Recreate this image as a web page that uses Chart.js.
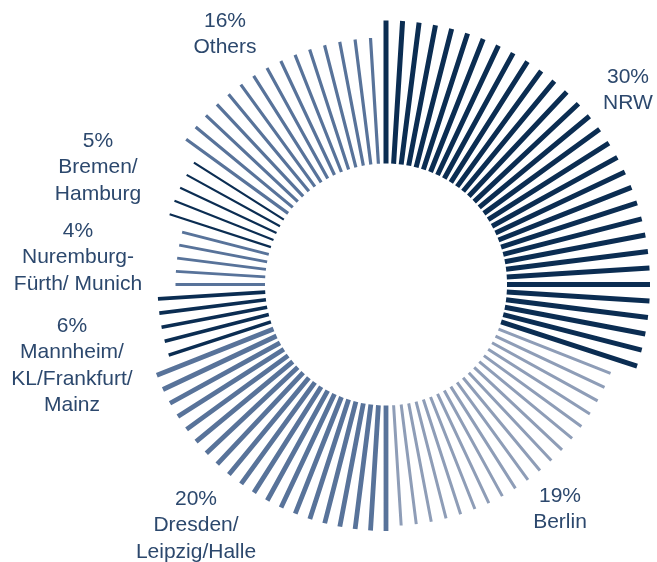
<!DOCTYPE html>
<html>
<head>
<meta charset="utf-8">
<script src="https://cdn.jsdelivr.net/npm/chart.js@4"></script>
<style>
  html, body { margin: 0; padding: 0; background: #fff; }
  #wrap { width: 657px; height: 562px; }
</style>
</head>
<body>
<div id="wrap"><canvas id="ring" width="657" height="562"></canvas></div>
<script>
  // regions, clockwise from 12 o'clock
  const regions = ["NRW", "Berlin", "Dresden/Leipzig/Halle", "Mannheim/KL/Frankfurt/Mainz",
    "Nuremburg-Fürth/ Munich", "Bremen/Hamburg", "Others"];
  const shares = [30, 19, 20, 6, 4, 5, 16];
  // number of spokes per region (100 spokes around the ring)
  const spokeCounts = [31, 19, 20, 5, 5, 5, 15];
  // spoke length (outer radius) per region
  const spokeLength = [264, 241.5, 246.5, 228.5, 210.5, 227.5, 247];
  const innerRadius = 121;

  // label text, one entry per region
  const labelLines = [
    ["30%", "NRW"],
    ["19%", "Berlin"],
    ["20%", "Dresden/", "Leipzig/Halle"],
    ["6%", "Mannheim/", "KL/Frankfurt/", "Mainz"],
    ["4%", "Nuremburg-", "Fürth/ Munich"],
    ["5%", "Bremen/", "Hamburg"],
    ["16%", "Others"]
  ];

  // styling
  const spokeColors = ["#0b2d52", "#8e9db7", "#58739a", "#0b2d52", "#58739a", "#0b2d52", "#58739a"];
  const spokeWidths = [5, 3, 4.8, 3.6, 2.8, 2.2, 3.2];
  const labelPos = [[628, 83], [560, 502], [196, 505], [72, 332], [78, 237], [98, 147], [225, 27]];
  const lineHeight = 26.3;

  const W = 657, H = 562, cx = 386, cy = 284.5;
  const totalSpokes = spokeCounts.reduce((a, b) => a + b, 0);
  const step = 2 * Math.PI / totalSpokes;

  // every spoke is a short line from the inner circle out to its length,
  // separated from the next by a NaN point so the line breaks
  let k = 0;
  const datasets = regions.map((name, g) => {
    const pts = [];
    for (let i = 0; i < spokeCounts[g]; i++, k++) {
      const a = k * step;
      pts.push({ x: innerRadius * Math.sin(a), y: innerRadius * Math.cos(a) });
      pts.push({ x: spokeLength[g] * Math.sin(a), y: spokeLength[g] * Math.cos(a) });
      pts.push({ x: NaN, y: NaN });
    }
    return {
      label: name,
      data: pts,
      showLine: true,
      spanGaps: false,
      borderColor: spokeColors[g],
      borderWidth: spokeWidths[g],
      borderCapStyle: "butt",
      pointRadius: 0,
      pointHoverRadius: 0,
    };
  });

  const labelPlugin = {
    id: "regionLabels",
    afterDraw(chart) {
      const ctx = chart.ctx;
      ctx.save();
      ctx.font = '21px "Liberation Sans", Arial, sans-serif';
      ctx.fillStyle = "#2c486d";
      ctx.textAlign = "center";
      ctx.textBaseline = "alphabetic";
      labelLines.forEach((lines, g) => {
        const [x, y] = labelPos[g];
        lines.forEach((t, j) => ctx.fillText(t, x, y + j * lineHeight));
      });
      ctx.restore();
    }
  };

  new Chart(document.getElementById("ring").getContext("2d"), {
    type: "scatter",
    data: { datasets: datasets },
    options: {
      responsive: false,
      animation: false,
      layout: { padding: 0 },
      plugins: { legend: { display: false }, tooltip: { enabled: false } },
      scales: {
        x: { type: "linear", display: false, min: -cx, max: W - cx },
        y: { type: "linear", display: false, min: -(H - cy), max: cy }
      }
    },
    plugins: [labelPlugin]
  });
</script>
</body>
</html>
